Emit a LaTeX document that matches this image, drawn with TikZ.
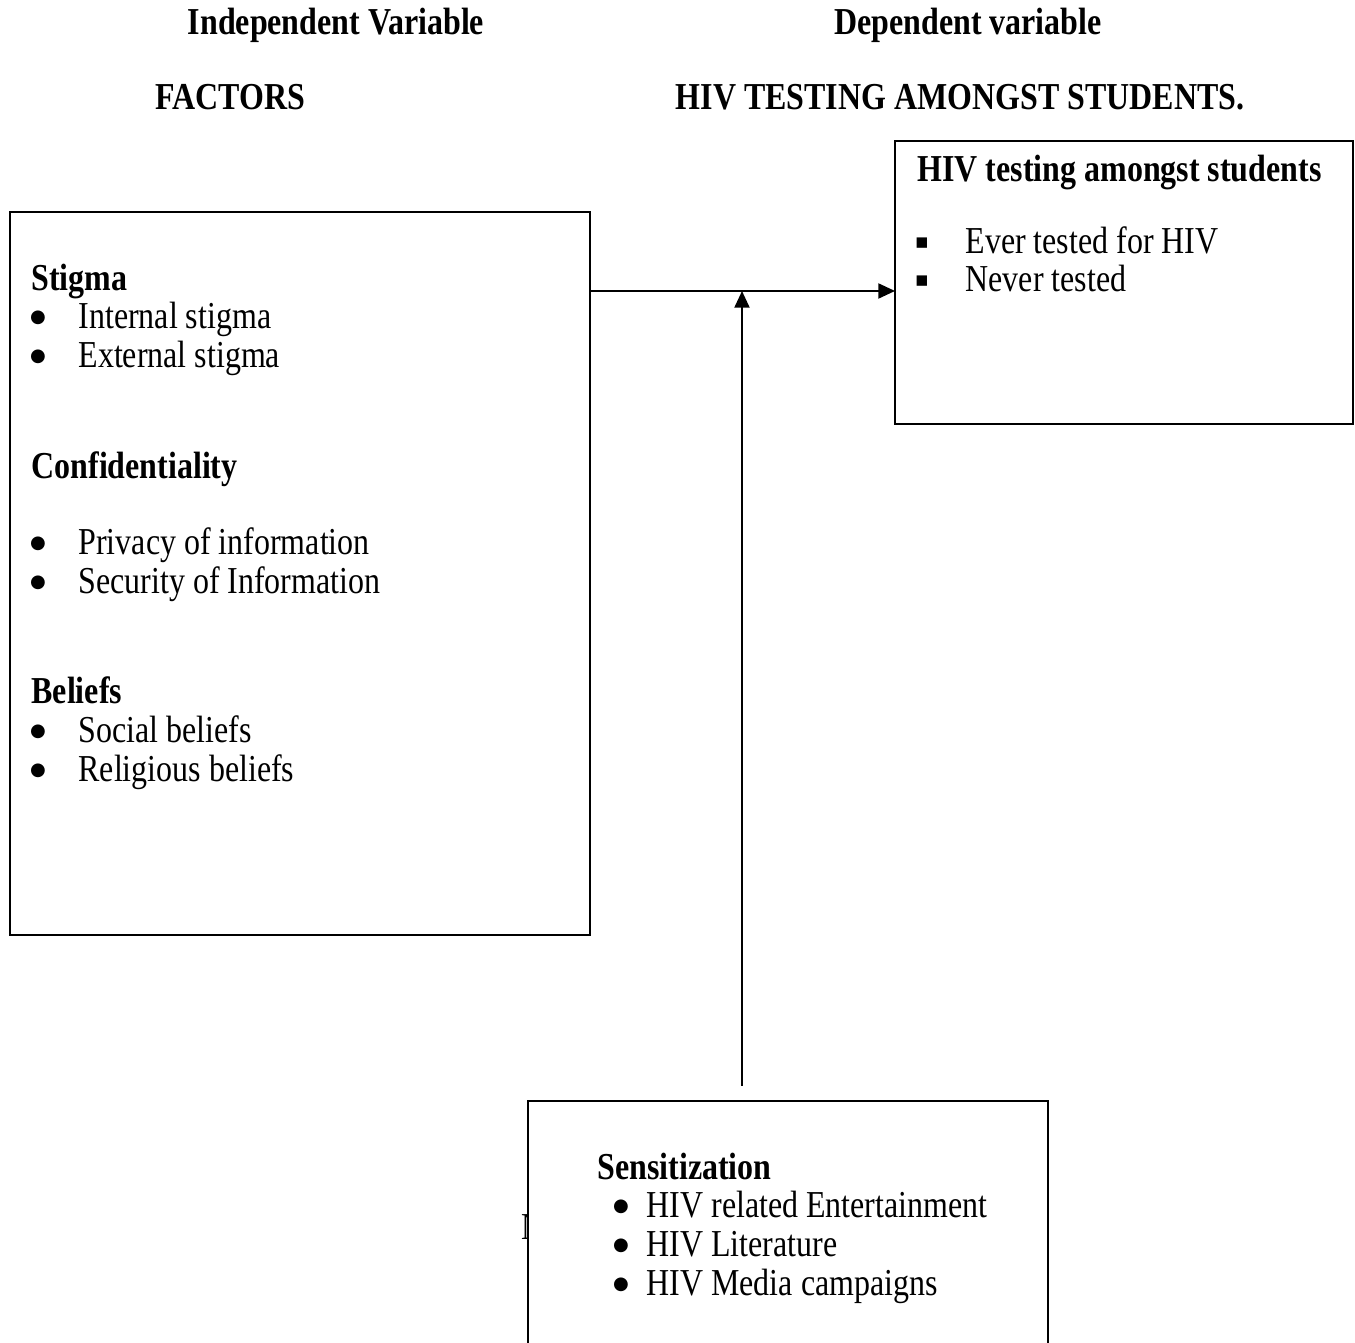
\documentclass[tikz,border=0pt]{standalone}
\usepackage{fontspec}
\setmainfont[FakeStretch=0.84]{Liberation Serif}
\newfontfamily\dejavu{DejaVu Sans}
\usetikzlibrary{arrows.meta}
\newcommand{\fs}{\fontsize{13.7}{16}\selectfont}
\begin{document}
\begin{tikzpicture}[x=0.36pt,y=-0.36pt,
  txt/.style={anchor=base west, inner sep=0pt, font=\fs},
  hd/.style={anchor=base west, inner sep=0pt, font=\fs\bfseries},
  ctr/.style={anchor=base, inner sep=0pt, font=\fs\bfseries},
  bul/.style={anchor=center, inner sep=0pt, font=\dejavu\fontsize{6.5}{8}\selectfont},
  sq/.style={anchor=center, inner sep=0pt, font=\dejavu\fontsize{7.5}{9}\selectfont},
  box/.style={draw, line width=0.72pt, fill=white, inner sep=0pt, outer sep=0pt, anchor=north west},
  arr/.style={line width=0.72pt, -{Triangle[length=6pt,width=5.4pt]}}]
\useasboundingbox (0,0) rectangle (1355,1343);

% headings
\node[ctr] (iv) at (336,35) {Independent Variable};
\node[ctr] (dv) at (968,35) {Dependent variable};
\node[ctr] (fac) at (230,110) {FACTORS};
\node[ctr] (hts) at (960,110) {HIV TESTING AMONGST STUDENTS.};

% left box
\node[box, minimum width=208.8pt, minimum height=260.3pt] (lbox) at (10,212) {};
\node[hd] (t1) at (31,291) {Stigma};
\node[bul] (b1) at (38,318) {●};
\node[txt] (i1) at (78,329) {Internal stigma};
\node[bul] (b2) at (38,357) {●};
\node[txt] (i2) at (78,368) {External stigma};
\node[hd] (t2) at (31,479) {Confidentiality};
\node[bul] (b3) at (38,544) {●};
\node[txt] (i3) at (78,555) {Privacy of information};
\node[bul] (b4) at (38,583) {●};
\node[txt] (i4) at (78,594) {Security of Information};
\node[hd] (t3) at (31,704) {Beliefs};
\node[bul] (b5) at (38,732) {●};
\node[txt] (i5) at (78,743) {Social beliefs};
\node[bul] (b6) at (38,771) {●};
\node[txt] (i6) at (78,782) {Religious beliefs};

% right box
\node[box, minimum width=164.9pt, minimum height=101.9pt] (rbox) at (895,141) {};
\node[hd] (t4) at (917,182) {HIV testing amongst students};
\node[sq] (b7) at (922,243) {▪};
\node[txt] (i7) at (965,254) {Ever tested for HIV};
\node[sq] (b8) at (922,281) {▪};
\node[txt] (i8) at (965,292) {Never tested};

% stray glyph partly hidden by bottom box
\node[txt] (stray) at (521,1240) {N};

% bottom box
\node[box, minimum width=187.2pt, minimum height=95pt] (sbox) at (528,1101) {};
\node[hd] (t5) at (597,1180) {Sensitization};
\node[bul] (b9) at (621,1207) {●};
\node[txt] (i9) at (646,1218) {HIV related Entertainment};
\node[bul] (b10) at (621,1246) {●};
\node[txt] (i10) at (646,1257) {HIV Literature};
\node[bul] (b11) at (621,1285) {●};
\node[txt] (i11) at (646,1296) {HIV Media campaigns};

% connectors
\coordinate (hy) at (0,291);
\coordinate (vs) at (742,1086);
\draw[arr] (lbox.east |- hy) -- (rbox.west |- hy);
\draw[arr] (vs) -- (vs |- hy);
\end{tikzpicture}
\end{document}
